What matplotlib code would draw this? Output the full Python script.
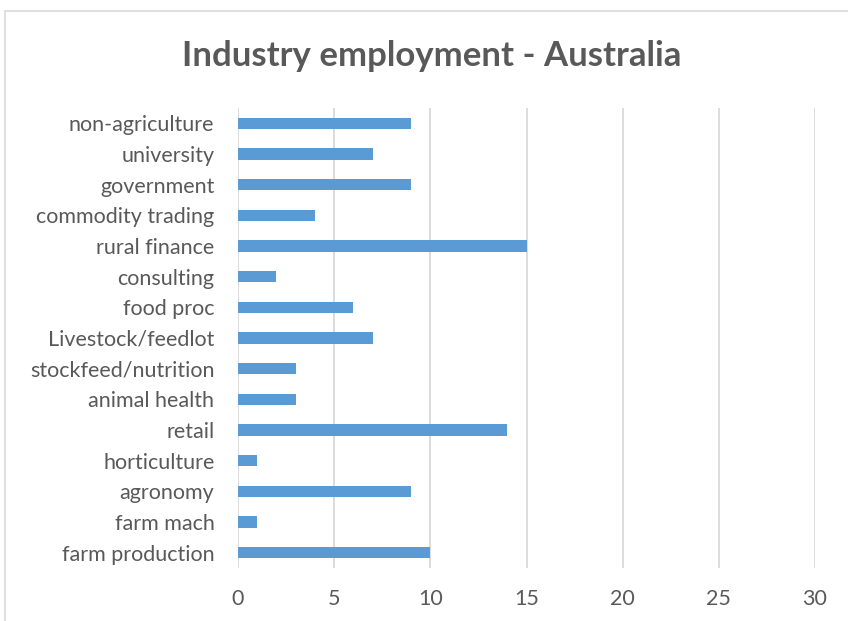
# horizontal bar chart of graduate employment by industry
import numpy as np
import matplotlib.pyplot as plt
from matplotlib.patches import Rectangle

industries = ['farm production', 'farm mach', 'agronomy', 'horticulture', 'retail',
              'animal health', 'stockfeed/nutrition', 'Livestock/feedlot', 'food proc',
              'consulting', 'rural finance', 'commodity trading', 'government',
              'university', 'non-agriculture']
counts = [10, 1, 9, 1, 14, 3, 3, 7, 6, 2, 15, 4, 9, 7, 9]
xticks = [0, 5, 10, 15, 20, 25, 30]

plt.rcParams['font.family'] = ['Lato', 'DejaVu Sans']
text_col = '#595959'
grid_col = '#D9D9D9'

fig = plt.figure(figsize=(8.48, 6.21), dpi=100)
ax = fig.add_axes([238/848, 1 - 568/621, (815 - 238)/848, (568 - 108)/621])

# chart frame
fig.patches.append(Rectangle((5/848, -0.1), 1.2, 1 - 11/621 + 0.1, transform=fig.transFigure,
                             fill=False, edgecolor=grid_col, linewidth=1.2, clip_on=False))

ind = np.arange(len(industries))
ax.barh(ind, counts, height=0.36, color='#5B9BD5', zorder=3)

ax.set_xlim(0, 30)
ax.set_ylim(-0.5, len(industries) - 0.5)
ax.set_xticks(xticks)
ax.set_xticklabels([str(t) for t in xticks])
ax.set_yticks(ind)
ax.set_yticklabels(industries)
ax.tick_params(axis='both', length=0, labelsize=15.5, labelcolor=text_col)
ax.tick_params(axis='x', pad=15)
ax.tick_params(axis='y', pad=17)

ax.grid(axis='x', color=grid_col, linewidth=1.3, zorder=0)
for s in ax.spines.values():
    s.set_visible(False)

fig.text(432/848, 1 - 56/621, 'Industry employment - Australia', ha='center', va='center',
         fontsize=25, fontweight='bold', color=text_col)

fig.savefig('out.png', dpi=100)
